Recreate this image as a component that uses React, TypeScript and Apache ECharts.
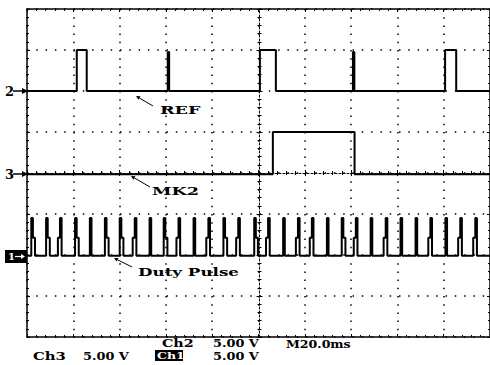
import React, { useEffect, useRef } from "react";
import * as echarts from "echarts";

// ---- axis ranges (time in ms, vertical in divisions) ----
const TIME_MIN = 0;
const TIME_MAX = 200;
const TIME_DIV = 20;
const VOLT_MIN = -4;
const VOLT_MAX = 4;

// ---- Ch2 : REF ----
const refBase = 2.0;
const refRise = [21.5, 60.8, 100.6, 140.8, 180.6];
const refFall = [25.8, 61.4, 107.5, 141.4, 185.4];
const refHigh = [3.0, 2.95, 3.0, 2.95, 3.0];

// ---- Ch3 : MK2 ----
const mk2Base = -0.03;
const mk2High = 1.0;
const mk2Rise = [106.2];
const mk2Fall = [141.5];

// ---- Ch1 : Duty Pulse ----
const dutyBase = -2.02;
const dutyHigh = -1.1;
const dutyShoulderLevel = -1.58;
const dutyPulseWidth = 0.7;
const dutyShoulderWidth = 0.9;
const dutyCenters = [
  2.2, 8.6, 14.6, 21.1, 27.5, 34.0, 40.4, 46.9, 53.3, 59.4, 65.8, 72.3, 78.7,
  85.2, 91.6, 98.5, 104.5, 111.0, 117.4, 123.4, 129.9, 136.3, 142.4, 148.8,
  155.3, 161.7, 168.2, 174.6, 181.1, 187.5, 194.0,
];
const dutyShoulderSide = [
  1, 1, -1, 1, 0, 1, 1, -1, 0, 1, -1, 0, -1, 1, -1, 1, -1, 0, -1, -1, 0, 1, -1,
  0, -1, 0, 0, -1, 0, -1, -1,
];

// ---- texts ----
const traceLabels = ["REF", "MK2", "Duty Pulse"];
const channelScaleTexts = ["Ch2", "5.00 V", "Ch3", "5.00 V", "Ch1", "5.00 V"];
const timebaseText = "M20.0ms";

function buildRef(): number[][] {
  const pts: number[][] = [[TIME_MIN, refBase]];
  refRise.forEach((r, i) => {
    pts.push([r, refBase], [r, refHigh[i]], [refFall[i], refHigh[i]], [refFall[i], refBase]);
  });
  pts.push([TIME_MAX, refBase]);
  return pts;
}

function buildMk2(): number[][] {
  const pts: number[][] = [[TIME_MIN, mk2Base]];
  mk2Rise.forEach((r, i) => {
    pts.push([r, mk2Base], [r, mk2High], [mk2Fall[i], mk2High], [mk2Fall[i], mk2Base]);
  });
  pts.push([TIME_MAX, mk2Base]);
  return pts;
}

function buildDuty(): number[][] {
  const pts: number[][] = [[TIME_MIN, dutyBase]];
  const h = dutyPulseWidth / 2;
  dutyCenters.forEach((c, i) => {
    const s = dutyShoulderSide[i];
    if (s < 0) {
      const a = c - h - dutyShoulderWidth;
      pts.push([a, dutyBase], [a, dutyShoulderLevel], [c - h, dutyShoulderLevel], [c - h, dutyHigh], [c + h, dutyHigh], [c + h, dutyBase]);
    } else if (s > 0) {
      const b = c + h + dutyShoulderWidth;
      pts.push([c - h, dutyBase], [c - h, dutyHigh], [c + h, dutyHigh], [c + h, dutyShoulderLevel], [b, dutyShoulderLevel], [b, dutyBase]);
    } else {
      pts.push([c - h, dutyBase], [c - h, dutyHigh], [c + h, dutyHigh], [c + h, dutyBase]);
    }
  });
  pts.push([TIME_MAX, dutyBase]);
  return pts;
}

const FONT = '"DejaVu Serif", "Liberation Serif", serif';

function label(text: string, x: number, y: number, size: number, sx: number, fill = "#000") {
  return {
    type: "text",
    x,
    y,
    scaleX: sx,
    z: 20,
    style: {
      text,
      fill,
      fontFamily: FONT,
      fontWeight: "bold",
      fontSize: size,
      textAlign: "left",
      textVerticalAlign: "middle",
    },
  };
}

function arrow(x1: number, y1: number, x2: number, y2: number, w = 1) {
  const dx = x2 - x1;
  const dy = y2 - y1;
  const len = Math.sqrt(dx * dx + dy * dy);
  const ux = dx / len;
  const uy = dy / len;
  const hl = 4;
  const hw = 2;
  const bx = x2 - ux * hl;
  const by = y2 - uy * hl;
  return [
    {
      type: "line",
      z: 20,
      shape: { x1, y1, x2: bx, y2: by },
      style: { stroke: "#000", lineWidth: w },
    },
    {
      type: "polygon",
      z: 20,
      shape: {
        points: [
          [x2, y2],
          [bx - uy * hw, by + ux * hw],
          [bx + uy * hw, by - ux * hw],
        ],
      },
      style: { fill: "#000" },
    },
  ];
}

export default function App() {
  const ref = useRef<HTMLDivElement>(null);

  useEffect(() => {
    if (!ref.current) return;
    const chart = echarts.init(ref.current, undefined, { renderer: "svg" });

    const black = "#000";
    const xCommon = {
      type: "value",
      min: TIME_MIN,
      max: TIME_MAX,
      interval: TIME_DIV,
      axisLabel: { show: false },
      splitLine: { show: false },
    };
    const yCommon = {
      type: "value",
      min: VOLT_MIN,
      max: VOLT_MAX,
      interval: 1,
      axisLabel: { show: false },
      splitLine: { show: false },
    };
    const borderLine = { show: true, onZero: false, lineStyle: { color: black, width: 1.5 } };
    const centerLine = { show: true, onZero: false, lineStyle: { color: black, width: 1, type: [2, 2] } };
    const noLine = { show: false, onZero: false };
    const tickIn = { show: true, inside: true, length: 3, lineStyle: { color: black, width: 1 } };
    const tickOut = { show: true, inside: false, length: 3, lineStyle: { color: black, width: 1 } };
    const minor = { show: true, splitNumber: 5, length: 2, lineStyle: { color: black, width: 1 } };

    const option = {
      animation: false,
      backgroundColor: "#fff",
      grid: { left: 27, top: 9, width: 465, height: 328, containLabel: false },
      xAxis: [
        {
          ...xCommon,
          position: "bottom",
          axisLine: borderLine,
          axisTick: tickIn,
          minorTick: minor,
          splitLine: { show: true, lineStyle: { color: black, width: 1.5, type: [1.5, 6.7] } },
        },
        { ...xCommon, position: "top", axisLine: borderLine, axisTick: tickIn, minorTick: minor },
        { ...xCommon, position: "bottom", offset: -164, axisLine: centerLine, axisTick: tickIn, minorTick: minor },
        { ...xCommon, position: "bottom", offset: -164, axisLine: noLine, axisTick: tickOut, minorTick: minor },
      ],
      yAxis: [
        {
          ...yCommon,
          position: "left",
          axisLine: borderLine,
          axisTick: tickIn,
          minorTick: minor,
          splitLine: { show: true, lineStyle: { color: black, width: 1.5, type: [1.5, 7.8] } },
        },
        { ...yCommon, position: "left", offset: -232.5, axisLine: centerLine, axisTick: tickIn, minorTick: minor },
        { ...yCommon, position: "left", offset: -232.5, axisLine: noLine, axisTick: tickOut, minorTick: minor },
        { ...yCommon, position: "right", axisLine: borderLine, axisTick: tickIn, minorTick: minor },
      ],
      series: [
        {
          name: "REF",
          type: "line",
          data: buildRef(),
          showSymbol: false,
          symbol: "none",
          lineStyle: { color: black, width: 2 },
          z: 5,
        },
        {
          name: "MK2",
          type: "line",
          data: buildMk2(),
          showSymbol: false,
          symbol: "none",
          lineStyle: { color: black, width: 2 },
          z: 5,
        },
        {
          name: "Duty Pulse",
          type: "line",
          data: buildDuty(),
          showSymbol: false,
          symbol: "none",
          lineStyle: { color: black, width: 2 },
          z: 5,
        },
      ],
      graphic: [
        // channel markers
        label("2", 5, 91, 13, 1.0),
        { type: "line", z: 20, shape: { x1: 13, y1: 91, x2: 24, y2: 91 }, style: { stroke: black, lineWidth: 1.5 } },
        { type: "polygon", z: 20, shape: { points: [[22, 88], [28, 91], [22, 94]] }, style: { fill: black } },
        label("3", 5, 174, 13, 1.0),
        { type: "line", z: 20, shape: { x1: 13, y1: 174, x2: 24, y2: 174 }, style: { stroke: black, lineWidth: 1.5 } },
        { type: "polygon", z: 20, shape: { points: [[22, 171], [28, 174], [22, 177]] }, style: { fill: black } },
        { type: "rect", z: 20, shape: { x: 5, y: 250, width: 22, height: 13 }, style: { fill: black } },
        label("1", 8, 256.5, 10, 1.0, "#fff"),
        { type: "line", z: 21, shape: { x1: 15, y1: 256.5, x2: 22, y2: 256.5 }, style: { stroke: "#fff", lineWidth: 1.2 } },
        { type: "polygon", z: 21, shape: { points: [[21, 254], [25, 256.5], [21, 259]] }, style: { fill: "#fff" } },
        // trace annotations
        ...arrow(153, 106, 136, 96),
        label(traceLabels[0], 160, 110, 11, 1.6),
        ...arrow(150, 187, 131, 176),
        label(traceLabels[1], 152, 191, 11, 1.6),
        ...arrow(132, 267, 114, 258),
        label(traceLabels[2], 138, 272, 11, 1.52),
        // bottom readouts
        label(channelScaleTexts[0], 162, 343, 11, 1.3),
        label(channelScaleTexts[1], 213, 343, 11, 1.17),
        label(timebaseText, 286, 344, 11, 1.14),
        label(channelScaleTexts[2], 33, 356, 11, 1.35),
        label(channelScaleTexts[3], 83, 356, 11, 1.17),
        { type: "rect", z: 20, shape: { x: 155, y: 350, width: 28, height: 11 }, style: { fill: black } },
        label(channelScaleTexts[4], 157, 355.5, 10, 1.25, "#fff"),
        label(channelScaleTexts[5], 213, 356, 11, 1.17),
      ],
    };

    chart.setOption(option as any);
    return () => chart.dispose();
  }, []);

  return (
    <div
      ref={ref}
      style={{ position: "fixed", left: 0, top: 0, width: 490, height: 365, background: "#fff" }}
    />
  );
}
